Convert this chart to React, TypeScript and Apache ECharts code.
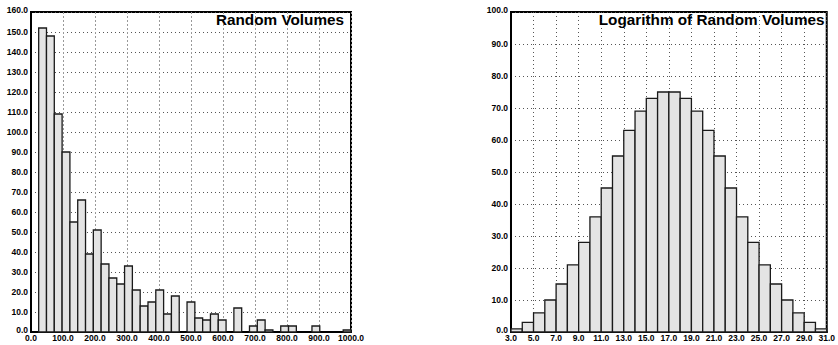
import React, { useEffect, useRef } from "react";
import * as echarts from "echarts";

// Left histogram: 40 bins spanning the data range
const leftBinStart = 24;
const leftBinWidth = 24.4;
const leftCounts = [
  152, 148, 109, 90, 55, 66, 39, 51, 34, 27,
  24, 33, 21, 13, 15, 21, 9, 18, 0, 15,
  7, 6, 9, 6, 0, 12, 0, 3, 6, 1,
  0, 3, 3, 0, 0, 3, 0, 0, 0, 1,
];

// Right histogram: unit bins from 3 to 31
const rightBinStart = 3;
const rightBinWidth = 1;
const rightCounts = [
  1, 3, 6, 10, 15, 21, 28, 36, 45, 55, 63, 69, 73, 75,
  75, 73, 69, 63, 55, 45, 36, 28, 21, 15, 10, 6, 3, 1,
];

const leftTitle = "Random Volumes";
const rightTitle = "Logarithm of Random Volumes";

function toBins(start: number, width: number, counts: number[]) {
  return counts.map((c, i) => [start + i * width, start + (i + 1) * width, c]);
}

const FONT = "'Liberation Sans', Arial, Helvetica, sans-serif";

const renderBar = (params: any, api: any) => {
  const x0 = api.value(0);
  const x1 = api.value(1);
  const y = api.value(2);
  if (!y) return null;
  const p0 = api.coord([x0, y]);
  const p1 = api.coord([x1, 0]);
  return {
    type: "rect",
    shape: { x: p0[0], y: p0[1], width: p1[0] - p0[0], height: p1[1] - p0[1] },
    style: { fill: "#e4e4e4", stroke: "#1a1a1a", lineWidth: 1.3 },
  };
};

const labelBase = {
  fontFamily: FONT,
  fontWeight: "bold" as const,
  fontSize: 8.5,
  color: "#000",
};

const xLabel = {
  ...labelBase,
  margin: 1,
  showMaxLabel: true,
  formatter: (v: number) => v.toFixed(1),
};

const yLabel = (max: number) => ({
  ...labelBase,
  margin: 3,
  formatter: (v: number) => (v === 0 || v === max ? `{e|${v.toFixed(1)}}` : v.toFixed(1)),
  rich: {
    e: { ...labelBase, padding: [0, 0, 5, 0] },
  },
});

export default function App() {
  const ref = useRef<HTMLDivElement>(null);
  useEffect(() => {
    if (!ref.current) return;
    const chart = echarts.init(ref.current, undefined, { renderer: "svg" });
    const grids = [
      { left: 31, top: 12, width: 320, height: 320 },
      { left: 511, top: 12, width: 319, height: 320 },
    ];
    chart.setOption({
      animation: false,
      title: [
        {
          text: leftTitle,
          right: 838 - 344,
          top: 12,
          padding: 0,
          textStyle: { fontFamily: FONT, fontWeight: "bold", fontSize: 15.3, color: "#000" },
        },
        {
          text: rightTitle,
          right: 838 - 824.5,
          top: 12,
          padding: 0,
          textStyle: { fontFamily: FONT, fontWeight: "bold", fontSize: 15.3, color: "#000" },
        },
      ],
      grid: grids.map((g) => ({ ...g, show: true, borderColor: "#000", borderWidth: 2, backgroundColor: "#fff" })),
      xAxis: [
        {
          type: "value",
          gridIndex: 0,
          min: 0,
          max: 1000,
          interval: 100,
          axisLine: { show: true, onZero: false, lineStyle: { color: "#000", width: 2 } },
          axisTick: { show: false },
          axisLabel: xLabel,
          splitLine: { show: true, lineStyle: { color: "#999", type: [2, 2], width: 1 } },
        },
        {
          type: "value",
          gridIndex: 1,
          min: 3,
          max: 31,
          interval: 2,
          axisLine: { show: true, onZero: false, lineStyle: { color: "#000", width: 2 } },
          axisTick: { show: false },
          axisLabel: xLabel,
          splitLine: { show: true, lineStyle: { color: "#555", type: [1, 3], width: 1 } },
        },
      ],
      yAxis: [
        {
          type: "value",
          gridIndex: 0,
          min: 0,
          max: 160,
          interval: 10,
          axisLine: { show: true, lineStyle: { color: "#000", width: 2 } },
          axisTick: { show: false },
          axisLabel: yLabel(160),
          splitLine: { show: true, lineStyle: { color: "#555", type: [1, 3], width: 1 } },
        },
        {
          type: "value",
          gridIndex: 1,
          min: 0,
          max: 100,
          interval: 10,
          axisLine: { show: true, lineStyle: { color: "#000", width: 2 } },
          axisTick: { show: false },
          axisLabel: yLabel(100),
          splitLine: { show: true, lineStyle: { color: "#555", type: [1, 3], width: 1 } },
        },
      ],
      series: [
        {
          type: "custom",
          xAxisIndex: 0,
          yAxisIndex: 0,
          renderItem: renderBar,
          encode: { x: [0, 1], y: 2 },
          data: toBins(leftBinStart, leftBinWidth, leftCounts),
        },
        {
          type: "custom",
          xAxisIndex: 1,
          yAxisIndex: 1,
          renderItem: renderBar,
          encode: { x: [0, 1], y: 2 },
          data: toBins(rightBinStart, rightBinWidth, rightCounts),
        },
      ],
    });
    return () => chart.dispose();
  }, []);
  return (
    <div
      ref={ref}
      style={{ position: "fixed", left: 0, top: 0, width: 838, height: 345, background: "#fff" }}
    />
  );
}
